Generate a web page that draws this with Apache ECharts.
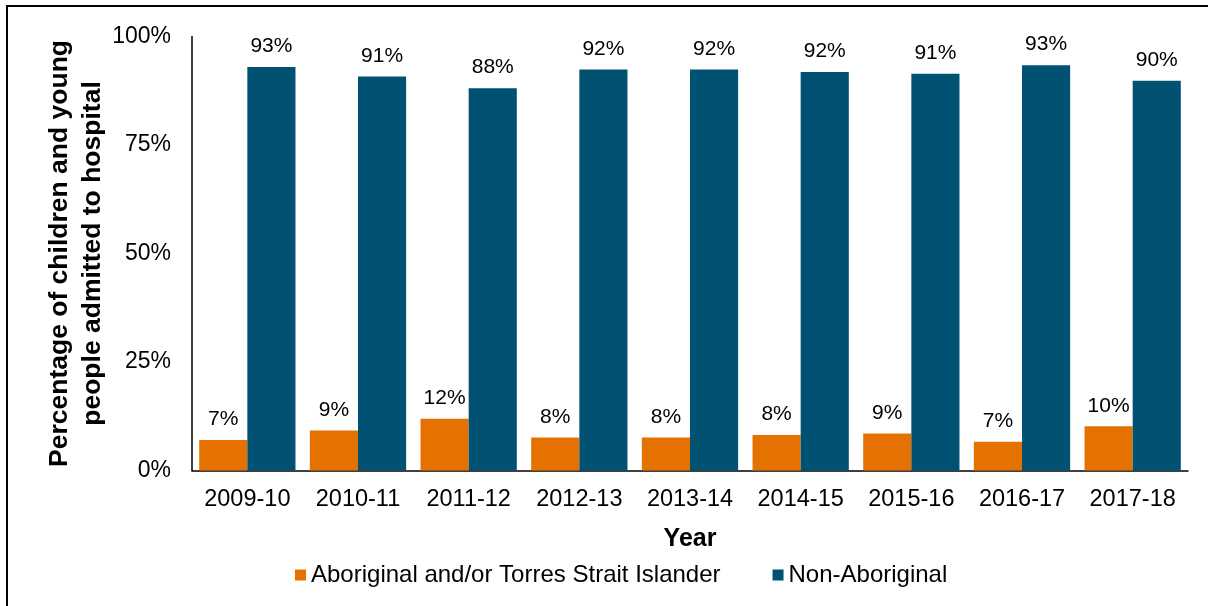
<!DOCTYPE html>
<html>
<head>
<meta charset="utf-8">
<script src="https://cdn.jsdelivr.net/npm/echarts@6/dist/echarts.min.js"></script>
<style>
html,body{margin:0;padding:0;background:#fff;}
#chart{width:1208px;height:606px;}
</style>
</head>
<body>
<div id="chart"></div>
<script>
const categories = ['2009-10','2010-11','2011-12','2012-13','2013-14','2014-15','2015-16','2016-17','2017-18'];
const aboriginal = [7.0, 9.2, 11.9, 7.6, 7.6, 8.2, 8.5, 6.6, 10.2];
const nonAboriginal = [93.0, 90.8, 88.1, 92.4, 92.4, 91.8, 91.4, 93.4, 89.8];
const yTicks = [0, 25, 50, 75, 100];
const seriesNames = ['Aboriginal and/or Torres Strait Islander', 'Non-Aboriginal'];

const FONT = '"Liberation Sans", Arial, sans-serif';
const chart = echarts.init(document.getElementById('chart'), null, {renderer: 'canvas'});
const labelCfg = {
  show: true, position: 'top', distance: 10,
  color: '#000', fontFamily: FONT, fontSize: 21,
  formatter: p => Math.round(p.value) + '%'
};
chart.setOption({
  animation: false,
  backgroundColor: '#fff',
  grid: {left: 192, right: 20, top: 36.5, bottom: 135.5, containLabel: false},
  graphic: [{
    type: 'polyline', silent: true,
    shape: {points: [[7, 606], [7, 6], [1208, 6]]},
    style: {stroke: '#000', lineWidth: 2, fill: null}
  }],
  legend: {
    data: seriesNames,
    bottom: 14, left: 290,
    itemWidth: 11, itemHeight: 11, itemGap: 52,
    icon: 'rect',
    textStyle: {fontFamily: FONT, fontSize: 24, color: '#000'}
  },
  xAxis: {
    type: 'category', data: categories,
    name: 'Year', nameLocation: 'middle', nameGap: 56, nameMoveOverlap: false,
    nameTextStyle: {fontFamily: FONT, fontSize: 25, fontWeight: 'bold', color: '#000'},
    axisLine: {lineStyle: {color: '#000', width: 1.5}},
    axisTick: {show: false},
    axisLabel: {fontFamily: FONT, fontSize: 23.5, color: '#000', margin: 17, interval: 0, hideOverlap: false}
  },
  yAxis: {
    type: 'value', min: 0, max: 100, interval: 25,
    name: 'Percentage of children and young\npeople admitted to hospital',
    nameLocation: 'middle', nameGap: 83, nameRotate: 90, nameMoveOverlap: false,
    nameTextStyle: {fontFamily: FONT, fontSize: 26.5, fontWeight: 'bold', color: '#000', lineHeight: 33, align: 'center'},
    axisLine: {show: true, lineStyle: {color: '#000', width: 1.5}},
    axisTick: {show: false},
    splitLine: {show: false},
    axisLabel: {fontFamily: FONT, fontSize: 23, color: '#000', margin: 21,
      formatter: v => yTicks.includes(v) ? v + '%' : ''}
  },
  series: [
    {name: seriesNames[0], type: 'bar', data: aboriginal, barGap: '0%', barCategoryGap: '13%',
     itemStyle: {color: '#E57200'}, label: labelCfg},
    {name: seriesNames[1], type: 'bar', data: nonAboriginal, barGap: '0%', barCategoryGap: '13%',
     itemStyle: {color: '#005172'}, label: labelCfg}
  ]
});
</script>
</body>
</html>
